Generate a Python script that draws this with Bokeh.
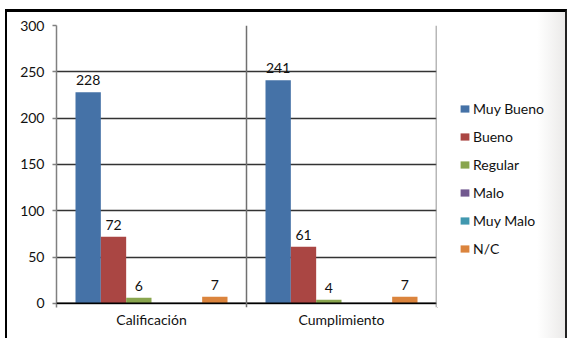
from bokeh.plotting import figure
from bokeh.layouts import row
from bokeh.models import (FactorRange, Range1d, Span, ColumnDataSource, FixedTicker)
from bokeh.transform import dodge
from bokeh.embed import file_html
from bokeh.resources import INLINE
from bokeh.core.properties import value

categories = ["Calificación", "Cumplimiento"]
series = ["Muy Bueno", "Bueno", "Regular", "Malo", "Muy Malo", "N/C"]
values = {
    "Muy Bueno": [228, 241],
    "Bueno": [72, 61],
    "Regular": [6, 4],
    "Malo": [0, 0],
    "Muy Malo": [0, 0],
    "N/C": [7, 7],
}
colors = ["#4572A7", "#AA4643", "#89A54E", "#71588F", "#4198AF", "#DB843D"]
y_ticks = [0, 50, 100, 150, 200, 250, 300]

FONT = "Lato"
TXT = "#111111"

p = figure(x_range=FactorRange(factors=categories, range_padding=0),
           y_range=Range1d(-4.5, 300),
           width=430, height=326, output_backend="svg", toolbar_location=None,
           min_border_left=49, min_border_right=1, min_border_top=13, min_border_bottom=31)
p.outline_line_color = None
p.background_fill_color = "white"
p.border_fill_color = "white"

group_w = 0.8
bar_w = group_w / len(series)
for i, (s, c) in enumerate(zip(series, colors)):
    off = -group_w / 2 + bar_w * (i + 0.5)
    vals = values[s]
    src = ColumnDataSource(dict(cat=categories, v=vals,
                                lbl=[str(v) if v > 0 else "" for v in vals]))
    p.vbar(x=dodge("cat", off, range=p.x_range), top="v", bottom=0, width=bar_w,
           source=src, fill_color=c, line_color=None)
    p.text(x=dodge("cat", off, range=p.x_range), y="v", text="lbl", source=src,
           text_align="center", text_baseline="bottom", y_offset=-7,
           text_font=value(FONT), text_font_size="14px", text_color=TXT)

p.xgrid.grid_line_color = None
p.ygrid.ticker = FixedTicker(ticks=y_ticks)
p.ygrid.grid_line_color = "#333333"
p.ygrid.grid_line_width = 1.5

p.yaxis.ticker = FixedTicker(ticks=y_ticks)
p.yaxis.axis_line_color = "#808080"
p.yaxis.axis_line_width = 1.5
p.yaxis.major_tick_line_color = "#808080"
p.yaxis.major_tick_line_width = 1.5
p.yaxis.major_tick_out = 4
p.yaxis.major_tick_in = 0
p.yaxis.minor_tick_line_color = None
p.yaxis.major_label_standoff = 8
p.yaxis.major_label_text_font = FONT
p.yaxis.major_label_text_font_size = "14px"
p.yaxis.major_label_text_color = TXT

p.xaxis.axis_line_color = None
p.xaxis.major_tick_line_color = None
p.xaxis.minor_tick_line_color = None
p.xaxis.major_label_standoff = -3
p.xaxis.major_label_text_font = FONT
p.xaxis.major_label_text_font_size = "14px"
p.xaxis.major_label_text_color = TXT

p.add_layout(Span(location=0, dimension="width", line_color="black", line_width=1.5))
for loc in [1.0, 2.0]:
    p.add_layout(Span(location=loc, dimension="height", line_color="#707070", line_width=1.5))

# legend panel (its own renderers sit outside the visible range)
lf = figure(width=128, height=326, output_backend="svg", toolbar_location=None,
            x_range=Range1d(0, 1), y_range=Range1d(0, 1), min_border=0)
lf.axis.visible = False
lf.grid.visible = False
lf.outline_line_color = None
lf.background_fill_alpha = 0
lf.border_fill_alpha = 0
for s, c in zip(series, colors):
    lf.vbar(x=[-10], top=[-10], bottom=[-11], width=0.1, fill_color=c, line_color=None,
            legend_label=s)
lg = lf.legend[0]
lg.location = (22, 50)
lg.border_line_color = None
lg.background_fill_alpha = 0
lg.padding = 0
lg.margin = 0
lg.spacing = 11
lg.glyph_width = 11
lg.glyph_height = 9
lg.label_height = 14
lg.label_standoff = 3
lg.label_text_font = FONT
lg.label_text_font_size = "14px"
lg.label_text_color = TXT

layout = row(p, lf, margin=(9, 0, 0, 5),
             styles={"border-top": "3px solid black", "border-left": "2px solid black",
                     "border-right": "2px solid #222",
                     "background": "linear-gradient(to right, #ffffff 0%, #ffffff 95%, #ebeae9 100%)"})

open("out.html", "w").write(file_html(layout, INLINE))
